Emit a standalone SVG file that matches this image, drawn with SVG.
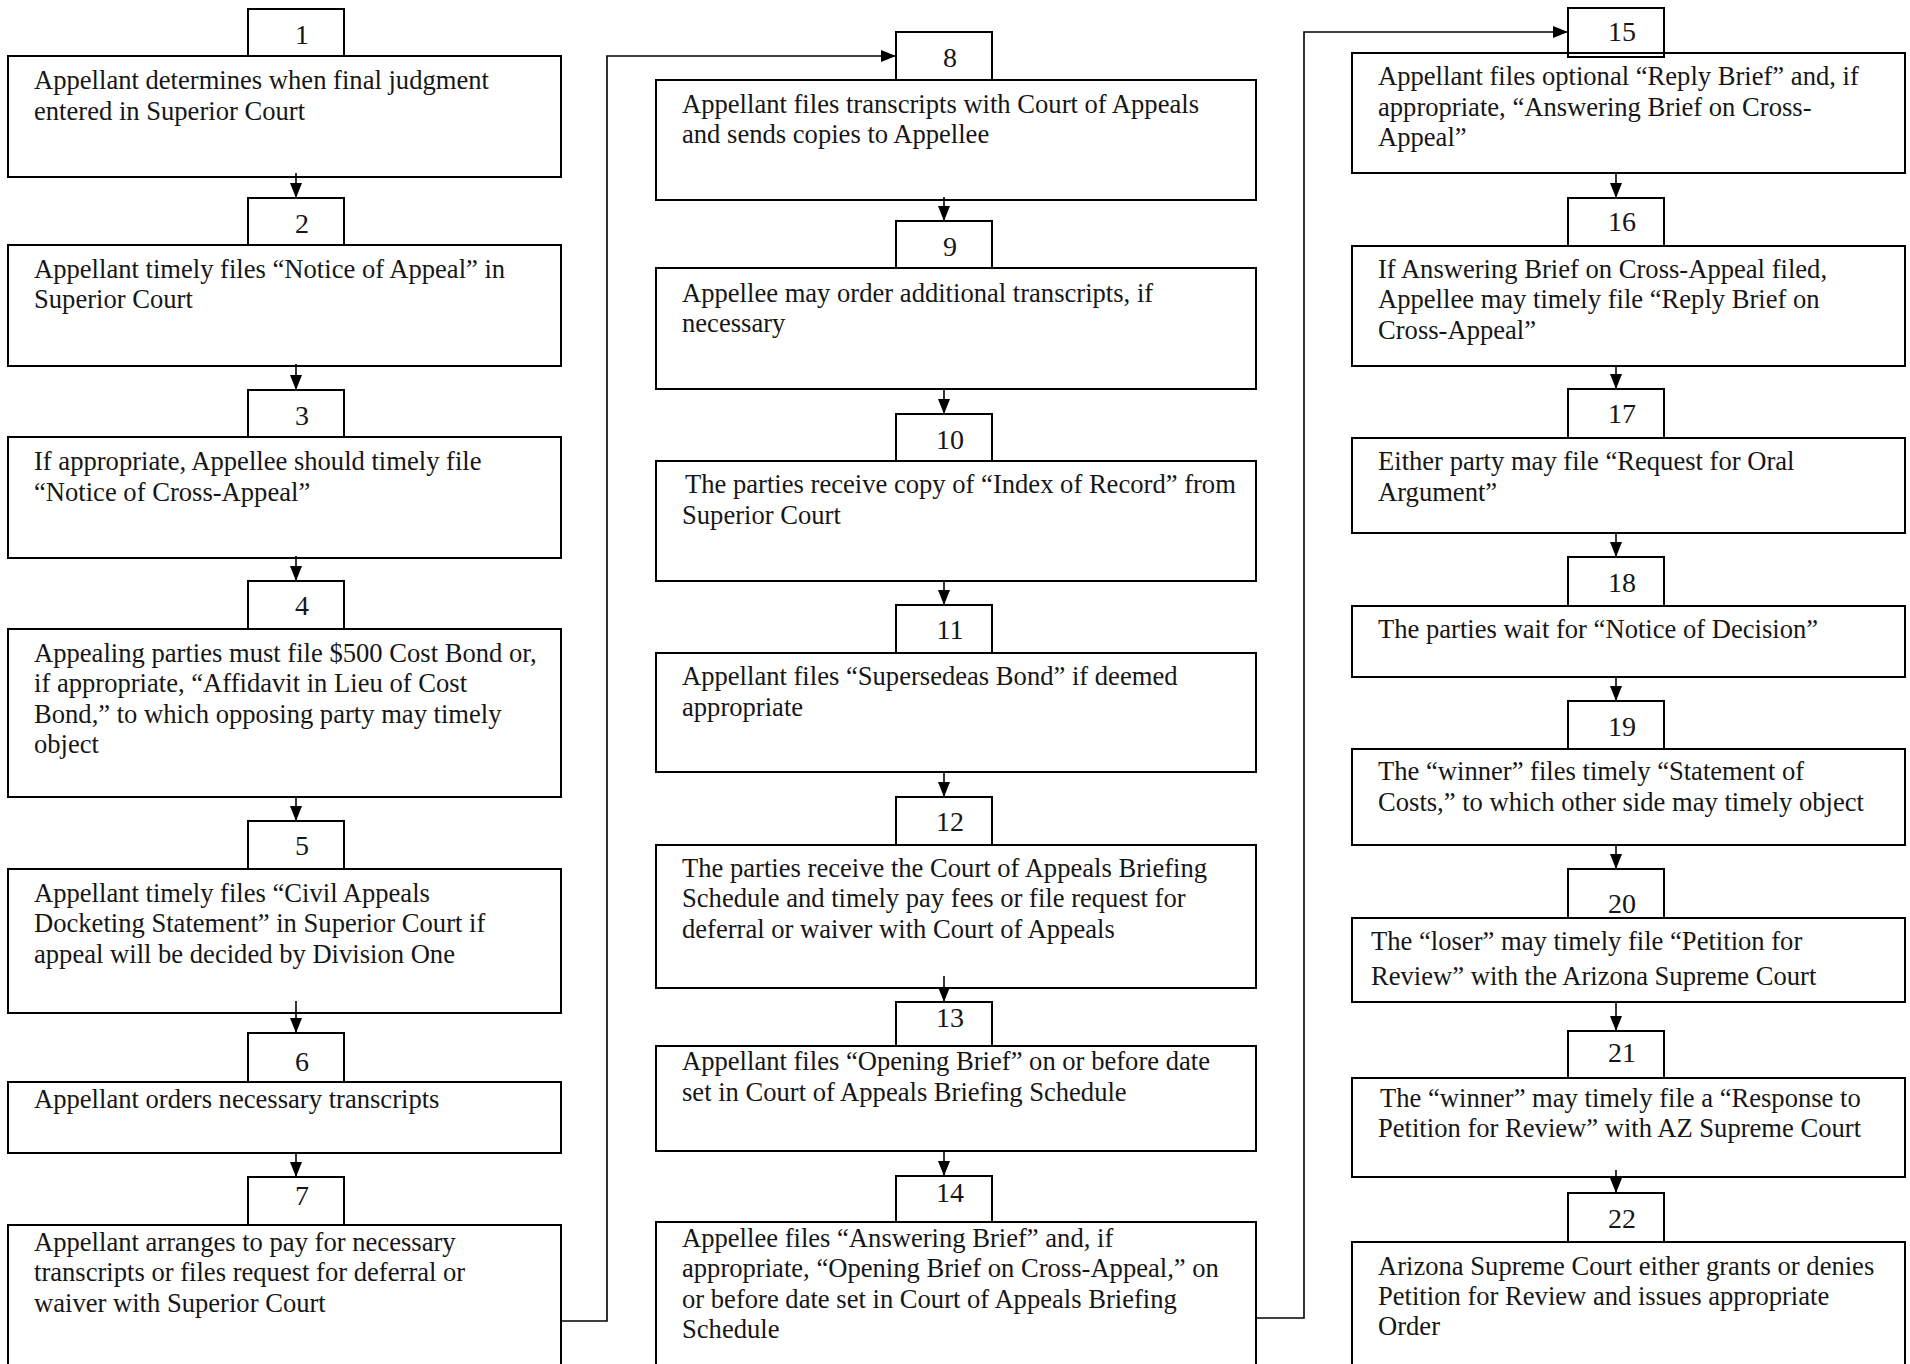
<svg xmlns="http://www.w3.org/2000/svg" width="1910" height="1364" viewBox="0 0 1910 1364">
<style>
.b{fill:none;stroke:#000;stroke-width:2}
.t{font-family:"Liberation Serif","Times New Roman",serif;font-size:26.6px;fill:#161616}
.n{font-family:"Liberation Serif","Times New Roman",serif;font-size:28px;fill:#161616;text-anchor:middle}
.c{fill:none;stroke:#000;stroke-width:1.6}
</style>
<defs>
<marker id="ah" markerUnits="userSpaceOnUse" markerWidth="15" markerHeight="12" refX="15" refY="6" orient="auto">
<path d="M0,0 L15,6 L0,12 Z" fill="#000"/>
</marker>
</defs>
<rect width="1910" height="1364" fill="#fff"/>

<g id="connectors">
<line class="c" x1="296" y1="173" x2="296" y2="198" marker-end="url(#ah)"/>
<line class="c" x1="296" y1="364" x2="296" y2="390" marker-end="url(#ah)"/>
<line class="c" x1="296" y1="556" x2="296" y2="581" marker-end="url(#ah)"/>
<line class="c" x1="296" y1="796" x2="296" y2="821" marker-end="url(#ah)"/>
<line class="c" x1="296" y1="1001" x2="296" y2="1033" marker-end="url(#ah)"/>
<line class="c" x1="296" y1="1152" x2="296" y2="1177" marker-end="url(#ah)"/>
<polyline class="c" points="561,1321 607,1321 607,56 896,56" marker-end="url(#ah)"/>
<line class="c" x1="944" y1="197" x2="944" y2="221" marker-end="url(#ah)"/>
<line class="c" x1="944" y1="388" x2="944" y2="414" marker-end="url(#ah)"/>
<line class="c" x1="944" y1="580" x2="944" y2="605" marker-end="url(#ah)"/>
<line class="c" x1="944" y1="772" x2="944" y2="797" marker-end="url(#ah)"/>
<line class="c" x1="944" y1="976" x2="944" y2="1002" marker-end="url(#ah)"/>
<line class="c" x1="944" y1="1151" x2="944" y2="1176" marker-end="url(#ah)"/>
<polyline class="c" points="1256,1318 1304,1318 1304,32 1568,32" marker-end="url(#ah)"/>
<line class="c" x1="1616" y1="172" x2="1616" y2="198" marker-end="url(#ah)"/>
<line class="c" x1="1616" y1="365" x2="1616" y2="389" marker-end="url(#ah)"/>
<line class="c" x1="1616" y1="532" x2="1616" y2="557" marker-end="url(#ah)"/>
<line class="c" x1="1616" y1="676" x2="1616" y2="701" marker-end="url(#ah)"/>
<line class="c" x1="1616" y1="844" x2="1616" y2="869" marker-end="url(#ah)"/>
<line class="c" x1="1616" y1="1002" x2="1616" y2="1031" marker-end="url(#ah)"/>
<line class="c" x1="1616" y1="1170" x2="1616" y2="1193" marker-end="url(#ah)"/>
</g>

<g id="node1">
<rect class="b" x="248" y="9" width="96" height="47"/><text class="n" x="302" y="44">1</text>
<rect class="b" x="8" y="56" width="553" height="121"/>
<text class="t"><tspan x="34" y="89">Appellant determines when final judgment</tspan><tspan x="34" y="120">entered in Superior Court</tspan></text>
</g>
<g id="node2">
<rect class="b" x="248" y="198" width="96" height="47"/><text class="n" x="302" y="233">2</text>
<rect class="b" x="8" y="245" width="553" height="121"/>
<text class="t"><tspan x="34" y="278">Appellant timely files “Notice of Appeal” in</tspan><tspan x="34" y="308">Superior Court</tspan></text>
</g>
<g id="node3">
<rect class="b" x="248" y="390" width="96" height="47"/><text class="n" x="302" y="425">3</text>
<rect class="b" x="8" y="437" width="553" height="121"/>
<text class="t"><tspan x="34" y="470">If appropriate, Appellee should timely file</tspan><tspan x="34" y="501">“Notice of Cross-Appeal”</tspan></text>
</g>
<g id="node4">
<rect class="b" x="248" y="581" width="96" height="48"/><text class="n" x="302" y="615">4</text>
<rect class="b" x="8" y="629" width="553" height="168"/>
<text class="t"><tspan x="34" y="662">Appealing parties must file $500 Cost Bond or,</tspan><tspan x="34" y="692">if appropriate, “Affidavit in Lieu of Cost</tspan><tspan x="34" y="723">Bond,” to which opposing party may timely</tspan><tspan x="34" y="753">object</tspan></text>
</g>
<g id="node5">
<rect class="b" x="248" y="821" width="96" height="48"/><text class="n" x="302" y="855">5</text>
<rect class="b" x="8" y="869" width="553" height="144"/>
<text class="t"><tspan x="34" y="902">Appellant timely files “Civil Appeals</tspan><tspan x="34" y="932">Docketing Statement” in Superior Court if</tspan><tspan x="34" y="963">appeal will be decided by Division One</tspan></text>
</g>
<g id="node6">
<rect class="b" x="248" y="1033" width="96" height="49"/><text class="n" x="302" y="1071">6</text>
<rect class="b" x="8" y="1082" width="553" height="71"/>
<text class="t"><tspan x="34" y="1108">Appellant orders necessary transcripts</tspan></text>
</g>
<g id="node7">
<rect class="b" x="248" y="1177" width="96" height="48"/><text class="n" x="302" y="1205">7</text>
<rect class="b" x="8" y="1225" width="553" height="160"/>
<text class="t"><tspan x="34" y="1251">Appellant arranges to pay for necessary</tspan><tspan x="34" y="1281">transcripts or files request for deferral or</tspan><tspan x="34" y="1312">waiver with Superior Court</tspan></text>
</g>

<g id="node8">
<rect class="b" x="896" y="32" width="96" height="48"/><text class="n" x="950" y="67">8</text>
<rect class="b" x="656" y="80" width="600" height="120"/>
<text class="t"><tspan x="682" y="113">Appellant files transcripts with Court of Appeals</tspan><tspan x="682" y="143">and sends copies to Appellee</tspan></text>
</g>
<g id="node9">
<rect class="b" x="896" y="221" width="96" height="47"/><text class="n" x="950" y="256">9</text>
<rect class="b" x="656" y="268" width="600" height="121"/>
<text class="t"><tspan x="682" y="302">Appellee may order additional transcripts, if</tspan><tspan x="682" y="332">necessary</tspan></text>
</g>
<g id="node10">
<rect class="b" x="896" y="414" width="96" height="47"/><text class="n" x="950" y="449">10</text>
<rect class="b" x="656" y="461" width="600" height="120"/>
<text class="t"><tspan x="685" y="493">The parties receive copy of “Index of Record” from</tspan><tspan x="682" y="524">Superior Court</tspan></text>
</g>
<g id="node11">
<rect class="b" x="896" y="605" width="96" height="48"/><text class="n" x="950" y="639">11</text>
<rect class="b" x="656" y="653" width="600" height="119"/>
<text class="t"><tspan x="682" y="685">Appellant files “Supersedeas Bond” if deemed</tspan><tspan x="682" y="716">appropriate</tspan></text>
</g>
<g id="node12">
<rect class="b" x="896" y="797" width="96" height="48"/><text class="n" x="950" y="831">12</text>
<rect class="b" x="656" y="845" width="600" height="143"/>
<text class="t"><tspan x="682" y="877">The parties receive the Court of Appeals Briefing</tspan><tspan x="682" y="907">Schedule and timely pay fees or file request for</tspan><tspan x="682" y="938">deferral or waiver with Court of Appeals</tspan></text>
</g>
<g id="node13">
<rect class="b" x="896" y="1002" width="96" height="44"/><text class="n" x="950" y="1027">13</text>
<rect class="b" x="656" y="1046" width="600" height="105"/>
<text class="t"><tspan x="682" y="1070">Appellant files “Opening Brief” on or before date</tspan><tspan x="682" y="1101">set in Court of Appeals Briefing Schedule</tspan></text>
</g>
<g id="node14">
<rect class="b" x="896" y="1176" width="96" height="46"/><text class="n" x="950" y="1202">14</text>
<rect class="b" x="656" y="1222" width="600" height="160"/>
<text class="t"><tspan x="682" y="1247">Appellee files “Answering Brief” and, if</tspan><tspan x="682" y="1277">appropriate, “Opening Brief on Cross-Appeal,” on</tspan><tspan x="682" y="1308">or before date set in Court of Appeals Briefing</tspan><tspan x="682" y="1338">Schedule</tspan></text>
</g>

<g id="node15">
<rect class="b" x="1352" y="53" width="553" height="120"/>
<rect class="b" x="1568" y="8" width="96" height="49"/><text class="n" x="1622" y="41">15</text>
<text class="t"><tspan x="1378" y="85">Appellant files optional “Reply Brief” and, if</tspan><tspan x="1378" y="116">appropriate, “Answering Brief on Cross-</tspan><tspan x="1378" y="146">Appeal”</tspan></text>
</g>
<g id="node16">
<rect class="b" x="1568" y="198" width="96" height="48"/><text class="n" x="1622" y="231">16</text>
<rect class="b" x="1352" y="246" width="553" height="120"/>
<text class="t"><tspan x="1378" y="278">If Answering Brief on Cross-Appeal filed,</tspan><tspan x="1378" y="308">Appellee may timely file “Reply Brief on</tspan><tspan x="1378" y="339">Cross-Appeal”</tspan></text>
</g>
<g id="node17">
<rect class="b" x="1568" y="389" width="96" height="49"/><text class="n" x="1622" y="423">17</text>
<rect class="b" x="1352" y="438" width="553" height="95"/>
<text class="t"><tspan x="1378" y="470">Either party may file “Request for Oral</tspan><tspan x="1378" y="501">Argument”</tspan></text>
</g>
<g id="node18">
<rect class="b" x="1568" y="557" width="96" height="49"/><text class="n" x="1622" y="592">18</text>
<rect class="b" x="1352" y="606" width="553" height="71"/>
<text class="t"><tspan x="1378" y="638">The parties wait for “Notice of Decision”</tspan></text>
</g>
<g id="node19">
<rect class="b" x="1568" y="701" width="96" height="48"/><text class="n" x="1622" y="736">19</text>
<rect class="b" x="1352" y="749" width="553" height="96"/>
<text class="t"><tspan x="1378" y="780">The “winner” files timely “Statement of</tspan><tspan x="1378" y="811">Costs,” to which other side may timely object</tspan></text>
</g>
<g id="node20">
<rect class="b" x="1568" y="869" width="96" height="49"/><text class="n" x="1622" y="913">20</text>
<rect class="b" x="1352" y="918" width="553" height="84"/>
<text class="t"><tspan x="1371" y="950">The “loser” may timely file “Petition for</tspan><tspan x="1371" y="985">Review” with the Arizona Supreme Court</tspan></text>
</g>
<g id="node21">
<rect class="b" x="1568" y="1031" width="96" height="47"/><text class="n" x="1622" y="1062">21</text>
<rect class="b" x="1352" y="1078" width="553" height="99"/>
<text class="t"><tspan x="1380" y="1107">The “winner” may timely file a “Response to</tspan><tspan x="1378" y="1137">Petition for Review” with AZ Supreme Court</tspan></text>
</g>
<g id="node22">
<rect class="b" x="1568" y="1193" width="96" height="49"/><text class="n" x="1622" y="1228">22</text>
<rect class="b" x="1352" y="1242" width="553" height="140"/>
<text class="t"><tspan x="1378" y="1275">Arizona Supreme Court either grants or denies</tspan><tspan x="1378" y="1305">Petition for Review and issues appropriate</tspan><tspan x="1378" y="1335">Order</tspan></text>
</g>
</svg>
